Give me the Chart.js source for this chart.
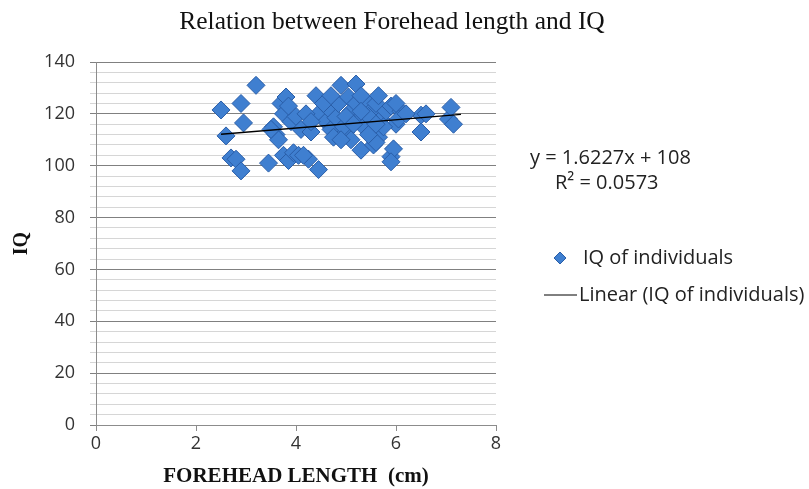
<!DOCTYPE html>
<html lang="en">
<head>
<meta charset="UTF-8">
<title>Relation between Forehead length and IQ</title>
<script src="https://cdn.jsdelivr.net/npm/chart.js"></script>
<style>
  html, body { margin: 0; padding: 0; background: #fff; overflow: hidden; }
</style>
</head>
<body>
<canvas id="iqChart" width="809" height="489"></canvas>
<script>
  // values (forehead length in cm, IQ)
  const foreheadLength = [2.5, 2.6, 2.7, 2.8, 2.9, 2.95, 2.9, 3.2, 3.45, 3.55,
    3.6, 3.7, 3.8, 3.75, 3.65, 3.75, 3.85, 3.95, 4.05, 4.25,
    3.9, 4.0, 4.1, 4.3, 4.4, 4.45, 4.45, 4.6, 4.65, 4.7,
    4.8, 4.9, 4.85, 5.0, 5.05, 5.1, 5.2, 5.2, 5.25, 5.3,
    5.4, 5.35, 5.55, 5.5, 5.6, 5.7, 5.65, 5.8, 5.9, 5.9,
    5.95, 6.0, 6.1, 6.05, 6.5, 6.5, 6.6, 7.05, 7.1, 7.15,
    4.95, 5.45, 4.75, 5.1, 4.2, 3.5, 6.2, 5.75, 5.0, 5.3,
    5.9, 5.6, 4.55, 4.7, 5.15, 5.45, 5.65, 4.9, 5.3, 5.6,
    4.3, 6.0, 4.15, 3.85];
  const iqValues = [121.5, 111.5, 103, 102.5, 124, 116.5, 98, 131, 101, 115,
    112, 124, 126.5, 120, 110, 104, 102, 105, 104, 102.5,
    117, 119, 114, 113, 127, 120, 98.5, 117, 122, 114,
    118.5, 131, 124, 113, 126.5, 121, 131.5, 124, 118, 106,
    125, 115, 108, 121, 124, 118, 111, 121, 103.5, 123,
    106.5, 116, 121, 118, 113, 119.5, 120, 118, 122.5, 116,
    115, 119, 111, 110, 120, 114, 120, 115, 119, 127,
    101.5, 109, 124, 127, 116, 112, 127, 110, 121, 116,
    117, 124, 104, 123];

  // linear trendline end points (y = 1.6227x + 108)
  const trendX = [2.5, 7.3];
  const trendY = [112.1, 119.8];

  const xTicks = [0, 2, 4, 6, 8];
  const yMajorStep = 20;
  const yMinorStep = 4;

  const chartTitle = 'Relation between Forehead length and IQ';
  const equationText = 'y = 1.6227x + 108';
  const rSquaredText = 'R\u00B2 = 0.0573';
  const seriesName = 'IQ of individuals';
  const trendName = 'Linear (IQ of individuals)';

  const blue = '#3f7fd0';
  const blueEdge = '#2a5ea8';

  const extras = {
    id: 'extras',
    afterDraw(chart) {
      const ctx = chart.ctx;
      ctx.save();
      ctx.fillStyle = '#111';
      ctx.textBaseline = 'middle';
      ctx.textAlign = 'center';
      ctx.font = '25.5px "Liberation Serif"';
      ctx.fillText(chartTitle, 392, 22);

      ctx.fillStyle = '#222';
      ctx.font = '20px "Open Sans"';
      ctx.textAlign = 'left';
      ctx.fillText(equationText, 530, 158);
      ctx.fillText(rSquaredText, 555, 183);

      // legend
      ctx.beginPath();
      ctx.moveTo(554, 258); ctx.lineTo(560, 252); ctx.lineTo(566, 258); ctx.lineTo(560, 264);
      ctx.closePath();
      ctx.fillStyle = blue; ctx.fill();
      ctx.strokeStyle = blueEdge; ctx.lineWidth = 1; ctx.stroke();
      ctx.fillStyle = '#222';
      ctx.fillText(seriesName, 583, 258);

      ctx.beginPath();
      ctx.moveTo(544, 295); ctx.lineTo(577, 295);
      ctx.strokeStyle = '#000'; ctx.lineWidth = 1; ctx.stroke();
      ctx.fillText(trendName, 579, 295);
      ctx.restore();
    }
  };

  new Chart(document.getElementById('iqChart'), {
    type: 'scatter',
    data: {
      datasets: [{
        label: seriesName,
        data: foreheadLength.map((x, i) => ({ x: x, y: iqValues[i] })),
        pointStyle: 'rectRot',
        pointRadius: 9,
        backgroundColor: blue,
        borderColor: blueEdge,
        borderWidth: 1,
        order: 2
      }, {
        type: 'line',
        label: trendName,
        data: trendX.map((x, i) => ({ x: x, y: trendY[i] })),
        borderColor: '#000',
        borderWidth: 1.5,
        pointRadius: 0,
        fill: false,
        order: 1
      }]
    },
    options: {
      responsive: false,
      animation: false,
      devicePixelRatio: 1,
      layout: { padding: { left: 0, top: 62, right: 313, bottom: 0 } },
      plugins: {
        legend: { display: false },
        tooltip: { enabled: false }
      },
      scales: {
        x: {
          type: 'linear',
          min: 0,
          max: 8,
          afterBuildTicks: s => { s.ticks = xTicks.map(v => ({ value: v })); },
          afterFit: s => { s.height = 64; },
          ticks: { color: '#333', font: { family: 'Open Sans', size: 18 }, padding: 2 },
          grid: { drawOnChartArea: false, drawTicks: true, tickLength: 6, color: '#8c8c8c' },
          border: { color: '#8c8c8c' },
          title: {
            display: true,
            text: 'FOREHEAD LENGTH  (cm)',
            color: '#111',
            font: { family: 'Liberation Serif', size: 21, weight: 'bold' },
            padding: { top: 0, bottom: 0 }
          }
        },
        y: {
          min: 0,
          max: 140,
          afterFit: s => { s.width = 96; },
          ticks: {
            stepSize: yMinorStep,
            autoSkip: false,
            color: '#333',
            font: { family: 'Open Sans', size: 18 },
            padding: 15,
            callback: v => (v % yMajorStep === 0 ? v : '')
          },
          grid: {
            color: c => (c.tick && c.tick.value % yMajorStep === 0 ? '#808080' : '#d6d6d6'),
            tickLength: 6
          },
          border: { color: '#8c8c8c' },
          title: {
            display: true,
            text: 'IQ',
            color: '#111',
            font: { family: 'Liberation Serif', size: 20, weight: 'bold' },
            padding: { top: 10, bottom: 0 }
          }
        }
      }
    },
    plugins: [extras]
  });
</script>
</body>
</html>
